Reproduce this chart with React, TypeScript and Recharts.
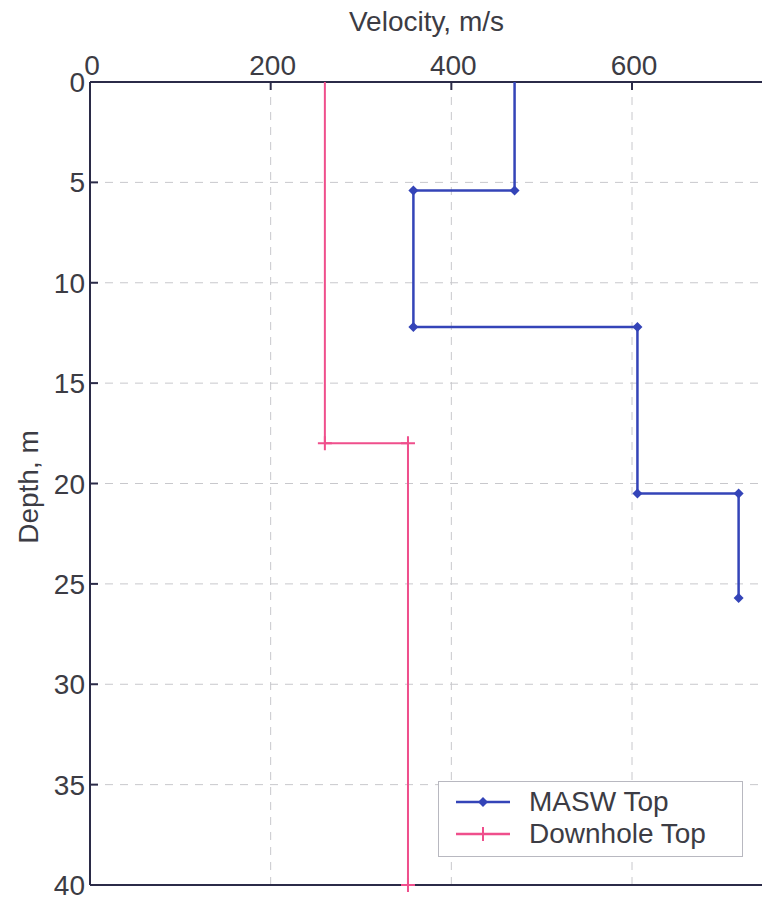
import { ScatterChart, Scatter, XAxis, YAxis, CartesianGrid, Legend } from "recharts"

// velocity (m/s) vs depth (m)
const maswVelocity = [470, 470, 358, 358, 606, 606, 718, 718]
const maswDepth = [0, 5.4, 5.4, 12.2, 12.2, 20.5, 20.5, 25.7]

const downholeVelocity = [260, 260, 352, 352]
const downholeDepth = [0, 18, 18, 40]

const velocityTicks = [0, 200, 400, 600]
const depthTicks = [0, 5, 10, 15, 20, 25, 30, 35, 40]

const masw = maswVelocity.map((v, i) => ({ v, d: maswDepth[i] }))
const downhole = downholeVelocity.map((v, i) => ({ v, d: downholeDepth[i] }))

const AXIS = "#2b2b48"
const TEXT = "#3c3c44"
const BLUE = "#3444b8"
const PINK = "#ef4f8c"
const FONT = "Liberation Sans, Arial, sans-serif"

const TopTick = (props: any) => {
  const { x, y, payload } = props
  const axisY = y + 6
  return (
    <g>
      <line x1={x} x2={x} y1={axisY} y2={axisY + 8} stroke={AXIS} strokeWidth={2} />
      <text x={x + 2} y={y - 1} textAnchor="middle" fill={TEXT} fontSize={28} fontFamily={FONT}>
        {payload.value}
      </text>
    </g>
  )
}

const LeftTick = (props: any) => {
  const { x, y, payload } = props
  const axisX = x + 5
  return (
    <g>
      <line x1={axisX} x2={axisX + 8} y1={y} y2={y} stroke={AXIS} strokeWidth={2} />
      <text x={x} y={y} dy="0.36em" textAnchor="end" fill={TEXT} fontSize={28} fontFamily={FONT}>
        {payload.value}
      </text>
    </g>
  )
}

// inward tick marks only, for the bottom and right sides of the box
const BottomTick = (props: any) => {
  const { x, y } = props
  return <line x1={x} x2={x} y1={y - 1} y2={y - 9} stroke={AXIS} strokeWidth={2} />
}

const RightTick = (props: any) => {
  const { x, y } = props
  return <line x1={x - 1} x2={x - 9} y1={y} y2={y} stroke={AXIS} strokeWidth={2} />
}

const Diamond = (props: any) => {
  const { cx, cy, payload } = props
  if (payload.d === 0) return <g />
  const r = 5
  return <path d={`M${cx},${cy - r}L${cx + r},${cy}L${cx},${cy + r}L${cx - r},${cy}Z`} fill={BLUE} />
}

const Plus = (props: any) => {
  const { cx, cy, payload } = props
  if (payload.d === 0) return <g />
  const r = 7
  return (
    <path d={`M${cx - r},${cy}H${cx + r}M${cx},${cy - r}V${cy + r}`} stroke={PINK} strokeWidth={2} />
  )
}

const LegendBox = () => (
  <div
    style={{
      width: 305,
      height: 76,
      boxSizing: "border-box",
      border: "1px solid #b8b8c0",
      background: "#fff",
      fontFamily: FONT,
      fontSize: 28,
      color: TEXT,
      paddingTop: 4,
    }}
  >
    {[
      { name: "MASW Top", color: BLUE, plus: false },
      { name: "Downhole Top", color: PINK, plus: true },
    ].map((item) => (
      <div key={item.name} style={{ display: "flex", alignItems: "center", height: 32 }}>
        <svg width={90} height={20} style={{ flex: "none" }}>
          <line x1={17} x2={71} y1={10} y2={10} stroke={item.color} strokeWidth={2.5} />
          {item.plus ? (
            <path d="M37,10H51M44,3V17" stroke={item.color} strokeWidth={2} />
          ) : (
            <path d="M44,5L49,10L44,15L39,10Z" fill={item.color} />
          )}
        </svg>
        <span style={{ lineHeight: "32px" }}>{item.name}</span>
      </div>
    ))}
  </div>
)

export default function App() {
  return (
    <div style={{ position: "absolute", left: 0, top: 0, width: 762, height: 900, overflow: "hidden", background: "#fff" }}>
      <ScatterChart width={780} height={900} margin={{ top: 0, right: 16, bottom: 14, left: 0 }}>
        <CartesianGrid stroke="#c8c8cc" strokeDasharray="8 7" />
        <XAxis
          type="number"
          dataKey="v"
          orientation="top"
          domain={[0, 745]}
          ticks={velocityTicks}
          height={82}
          stroke={AXIS}
          strokeWidth={2}
          tickSize={0}
          tickMargin={6}
          tick={<TopTick />}
          interval={0}
          label={{ value: "Velocity, m/s", position: "insideTop", offset: 11, fill: TEXT, fontSize: 28, fontFamily: FONT }}
        />
        <XAxis
          xAxisId="b"
          type="number"
          dataKey="v"
          orientation="bottom"
          domain={[0, 745]}
          ticks={velocityTicks}
          height={1}
          stroke={AXIS}
          strokeWidth={2}
          tickSize={0}
          tickMargin={0}
          tick={<BottomTick />}
          interval={0}
        />
        <YAxis
          type="number"
          dataKey="d"
          reversed
          domain={[0, 40]}
          ticks={depthTicks}
          width={90}
          stroke={AXIS}
          strokeWidth={2}
          tickSize={0}
          tickMargin={5}
          tick={<LeftTick />}
          interval={0}
          label={{
            content: () => (
              <text
                x={38}
                y={487}
                transform="rotate(-90 38 487)"
                textAnchor="middle"
                fill={TEXT}
                fontSize={28}
                fontFamily={FONT}
              >
                Depth, m
              </text>
            ),
          }}
        />
        <YAxis
          yAxisId="r"
          type="number"
          dataKey="d"
          orientation="right"
          reversed
          domain={[0, 40]}
          ticks={depthTicks}
          width={1}
          stroke={AXIS}
          strokeWidth={2}
          tickSize={0}
          tickMargin={0}
          tick={<RightTick />}
          interval={0}
        />
        <Scatter
          name="MASW Top"
          data={masw}
          line={{ stroke: BLUE, strokeWidth: 2.5 }}
          shape={<Diamond />}
          fill={BLUE}
          isAnimationActive={false}
        />
        <Scatter
          name="Downhole Top"
          data={downhole}
          line={{ stroke: PINK, strokeWidth: 2 }}
          shape={<Plus />}
          fill={PINK}
          isAnimationActive={false}
        />
        <Legend
          layout="vertical"
          align="center"
          verticalAlign="middle"
          content={<LegendBox />}
          wrapperStyle={{ left: 438, top: 781, width: 305, height: 76 }}
        />
      </ScatterChart>
    </div>
  )
}
